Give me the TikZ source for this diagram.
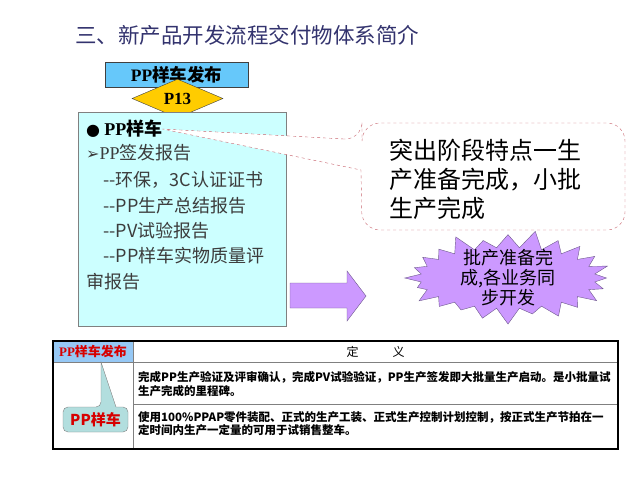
\documentclass[tikz,border=0pt]{standalone}
\usepackage{fontspec}
\usepackage{tikz}
\usetikzlibrary{shapes,arrows}
\setmainfont{Noto Sans CJK SC}
\newfontfamily\cjk{Noto Sans CJK SC}
\newfontfamily\tms{Liberation Serif}
\newfontfamily\dejavu{DejaVu Sans}
\definecolor{titleblue}{RGB}{51,51,110}
\definecolor{boxblue}{RGB}{102,200,250}
\definecolor{gold}{RGB}{255,204,0}
\definecolor{cyanfill}{RGB}{204,255,255}
\definecolor{lilac}{RGB}{204,153,255}
\definecolor{lilacline}{RGB}{110,90,140}
\definecolor{dashred}{RGB}{200,100,110}
\definecolor{hdrblue}{RGB}{150,200,245}
\definecolor{tealbox}{RGB}{178,222,222}
\definecolor{redtext}{RGB}{215,0,0}
\definecolor{listgray}{RGB}{60,60,60}

\begin{document}
\begin{tikzpicture}[x=1pt,y=-1pt]
\tikzstyle{every node}=[font=\cjk, inner sep=0pt]
\tikzstyle{listline}=[anchor=west, text=listgray, font=\cjk\fontsize{18}{22}\selectfont]
\tikzstyle{rowtext}=[anchor=west, align=left, font=\cjk\bfseries\fontsize{11.5}{13.5}\selectfont]
\useasboundingbox (0,0) rectangle (640,480);

% title
\node [anchor=west, text=titleblue, font=\cjk\fontsize{21.5}{24}\selectfont] (title) at (75,35) {三、新产品开发流程交付物体系简介};

% milestone
\node [draw=darkgray, fill=boxblue, minimum width=143pt, minimum height=25pt, font=\cjk\bfseries\fontsize{17.5}{20}\selectfont] (ppbox) at (176.5,74.5) {{\tms\bfseries PP}样车发布};
\node [diamond, draw=darkgray, fill=gold, minimum width=91pt, minimum height=23pt, font=\tms\bfseries\fontsize{17}{18}\selectfont] (p13) at (177.5,98.5) {P13};

% deliverables
\node [draw=gray, fill=cyanfill, minimum width=208pt, minimum height=214pt] (list) at (182,219) {};
\node [anchor=west, font=\cjk\bfseries\fontsize{18}{22}\selectfont] (l1) at (86,129) {{\dejavu\fontsize{16}{18}\selectfont ●} {\tms PP}样车};
\node [listline] (l2) at (86,153) {{\dejavu\bfseries\fontsize{16}{18}\selectfont ➢}{\tms PP}签发报告};
\node [listline] (l3) at (103,180) {-{}-环保，3C认证证书};
\node [listline] (l4) at (103,206) {-{}-PP生产总结报告};
\node [listline] (l5) at (103,231) {-{}-PV试验报告};
\node [listline] (l6) at (103,256) {-{}-PP样车实物质量评};
\node [listline] (l7) at (86,282) {审报告};

% callout
\draw [dashred, dashed, fill=white] (362,140) -- (l1.east) -- (361,170) [rounded corners=18pt] -- (362,230) -- (625,230) -- (625,123) -- (362,123) -- cycle;
\node [anchor=west, align=left, font=\cjk\fontsize{24}{29}\selectfont] (note) at (389,179) {突出阶段特点\hspace{1pt}\rule[8pt]{22pt}{2.6pt}\hspace{1pt}生\\产准备完成，小批\\生产完成};

% block arrow
\draw [lilacline, fill=lilac] (290,283) -- (347,283) -- (347,271) -- (366,296) -- (347,321) -- (347,308) -- (290,308) -- cycle;

% starburst
\node [starburst, starburst points=24, starburst point height=18pt, inner xsep=2pt, inner ysep=-7pt, draw=lilacline, fill=lilac, minimum width=211pt, minimum height=97pt, align=center, font=\cjk\fontsize{18}{20}\selectfont] (burst) at (508,278) {批产准备完\\成,各业务同\\步开发};

% table
\fill [hdrblue] (53,341) rectangle (133,362);
\draw [gray] (53,362) -- (618,362);
\draw [gray] (133,341) -- (133,449);
\draw [gray] (133,404) -- (618,404);
\draw [line width=1.6pt] (53,341) rectangle (618,449);
\node [text=redtext, font=\cjk\bfseries\fontsize{13}{15}\selectfont] (thead) at (93,351.5) {{\tms\bfseries PP}样车发布};
\node [font=\cjk\fontsize{12}{14}\selectfont] (tdef) at (375.5,351.5) {定\hspace{34pt}义};
\node [rowtext] (row1) at (138,384) {完成PP生产验证及评审确认，完成PV试验验证，PP生产签发即大批量生产启动。是小批量试\\生产完成的里程碑。};
\node [rowtext] (row2) at (138,423.5) {使用100\%PPAP零件装配、正式的生产工装、正式生产控制计划控制，按正式生产节拍在一\\定时间内生产一定量的可用于试销售整车。};

% table callout
\coordinate (ttip) at (101,362);
\draw [gray, fill=tealbox] (101,407) -- (ttip) -- (116,407) [rounded corners=5pt] -- (128,407) -- (128,432) -- (63,432) -- (63,407) -- cycle;
\node [text=redtext, font=\cjk\bfseries\fontsize{15}{18}\selectfont] (tpp) at (95.5,419.5) {PP样车};
\end{tikzpicture}
\end{document}
